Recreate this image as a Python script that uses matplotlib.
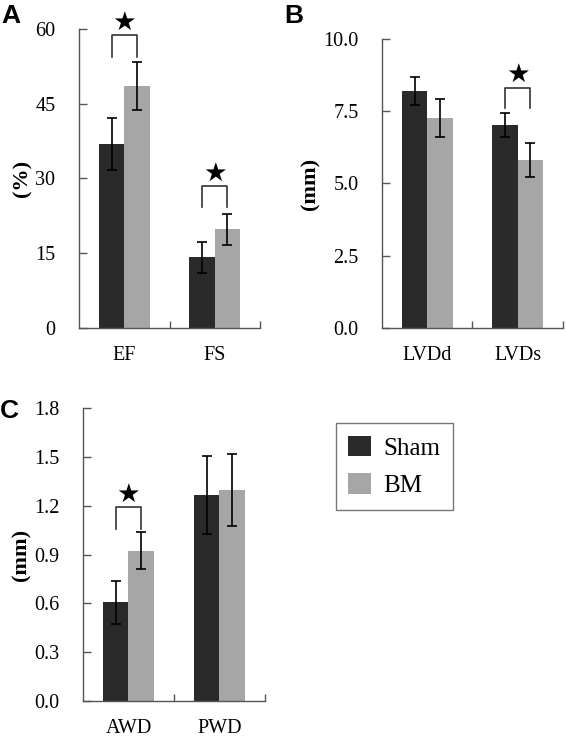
import numpy as np
import matplotlib.pyplot as plt

plt.rcParams['font.family'] = ['Liberation Serif', 'DejaVu Serif']

# data
groups = ['Sham', 'BM']
colors = ['#2a2a2a', '#a6a6a6']

cats_a = ['EF', 'FS']
sham_a = [36.9, 14.2]
sham_a_err = [5.2, 3.1]
bm_a = [48.6, 19.8]
bm_a_err = [4.8, 3.1]

cats_b = ['LVDd', 'LVDs']
sham_b = [8.2, 7.02]
sham_b_err = [0.5, 0.41]
bm_b = [7.26, 5.81]
bm_b_err = [0.65, 0.58]

cats_c = ['AWD', 'PWD']
sham_c = [0.606, 1.266]
sham_c_err = [0.133, 0.24]
bm_c = [0.923, 1.296]
bm_c_err = [0.113, 0.22]

# significance brackets: (category index, bracket top, leg bottom)
sig_a = [(0, 58.8, 54.4), (1, 28.4, 24.3)]
sig_b = [(1, 8.31, 7.6)]
sig_c = [(0, 1.19, 1.055)]


def bar_panel(ax, cats, sham, sham_err, bm, bm_err, ymax, yticks, fmt, ylabel, sigs):
    x = np.arange(len(cats))
    w = 0.28
    ax.bar(x - w / 2, sham, w, color=colors[0], label=groups[0], zorder=2)
    ax.bar(x + w / 2, bm, w, color=colors[1], label=groups[1], zorder=2)
    ax.errorbar(x - w / 2, sham, yerr=sham_err, fmt='none', ecolor='black',
                elinewidth=1.2, capsize=3.5, capthick=1.2, zorder=3)
    ax.errorbar(x + w / 2, bm, yerr=bm_err, fmt='none', ecolor='black',
                elinewidth=1.2, capsize=3.5, capthick=1.2, zorder=3)
    ax.set_xlim(-0.5, len(cats) - 0.5)
    ax.set_ylim(0, ymax)
    ax.set_yticks(yticks)
    ax.set_yticklabels([fmt.format(t) for t in yticks])
    ax.set_xticks(x)
    ax.set_xticklabels(cats)
    ax.tick_params(axis='x', length=0, labelsize=14.5, pad=13)
    ax.set_xticks(np.arange(len(cats)) + 0.5, minor=True)
    ax.tick_params(axis='x', which='minor', direction='in', length=5, width=1, color='#555555')
    ax.tick_params(axis='y', direction='in', length=6, width=1, labelsize=14.5, pad=17,
                   color='#555555')
    for s in ['top', 'right']:
        ax.spines[s].set_visible(False)
    for s in ['left', 'bottom']:
        ax.spines[s].set_color('#555555')
        ax.spines[s].set_linewidth(1)
    ax.set_ylabel(ylabel, fontsize=16, fontweight='bold', labelpad=2)
    for i, top, leg in sigs:
        xl, xr = i - w * 0.5, i + w * 0.5
        ax.plot([xl, xl, xr, xr], [leg, top, top, leg], color='#333333', lw=1.2,
                clip_on=False)
        ax.annotate('\u2605', (i, top), xytext=(0, 9), textcoords='offset points',
                    ha='center', va='center', fontsize=19, family=['DejaVu Sans'])


fig = plt.figure(figsize=(5.66, 7.38), dpi=100)
ax_a = fig.add_axes([0.1396, 0.5556, 0.3198, 0.4051])
ax_b = fig.add_axes([0.6749, 0.5556, 0.3198, 0.3916])
ax_c = fig.add_axes([0.1466, 0.0501, 0.3216, 0.3970])

bar_panel(ax_a, cats_a, sham_a, sham_a_err, bm_a, bm_a_err, 60,
          [0, 15, 30, 45, 60], '{:g}', '(%)', sig_a)
bar_panel(ax_b, cats_b, sham_b, sham_b_err, bm_b, bm_b_err, 10,
          [0, 2.5, 5, 7.5, 10], '{:.1f}', '(mm)', sig_b)
bar_panel(ax_c, cats_c, sham_c, sham_c_err, bm_c, bm_c_err, 1.8,
          [0, 0.3, 0.6, 0.9, 1.2, 1.5, 1.8], '{:.1f}', '(mm)', sig_c)

ax_c.legend(loc='upper left', bbox_to_anchor=(0.5936, 0.4268),
            bbox_transform=fig.transFigure, borderaxespad=0, fontsize=18,
            frameon=True, fancybox=False, edgecolor='#555555',
            handlelength=0.9, handleheight=0.9, handletextpad=0.5,
            labelspacing=0.55, borderpad=0.5)

for lab, xx, yy in [('A', 0.003, 0.995), ('B', 0.502, 0.995), ('C', 0.0, 0.46)]:
    fig.text(xx, yy, lab, fontsize=19, fontweight='bold', ha='left', va='top',
             family=['Liberation Sans', 'DejaVu Sans'])

fig.savefig('out.png', dpi=100)
